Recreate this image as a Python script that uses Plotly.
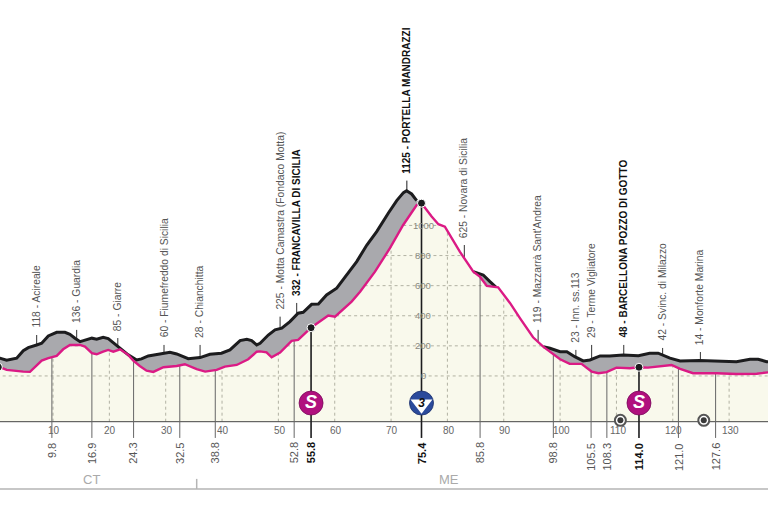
import numpy as np
import plotly.graph_objects as go

# profile: distance (km) and altitude (m)
road_km = [0.0,0.59,1.77,2.95,3.55,4.72,5.61,7.1,7.99,9.16,10.65,12.12,13.0,13.9,14.8,15.4,16.9,17.75,18.9,19.8,21.0,21.9,23.35,24.85,25.7,26.9,28.4,30.75,31.95,34.0,36.1,37.85,39.9,41.4,43.2,44.4,45.25,46.15,46.75,48.2,49.4,50.6,52.05,53.5,54.4,55.9,57.1,58.55,60.35,62.1,63.9,65.7,67.45,69.5,71.0,72.2,72.75,73.65,74.55,75.4,77.2,78.4,79.55,82.2,84.6,85.2,86.35,87.55,88.6,89.0,91.1,92.9,95.2,97.0,98.2,100.0,101.2,102.6,104.1,105.3,107.1,108.8,111.2,113.9,115.9,117.4,119.5,121.3,124.8,131.3,133.7,135.15,136.65,137.2]
road_alt = [118,118,104,111,118,168,188,206,217,266,290,290,277,251,228,235,251,244,257,248,213,184,140,106,113,133,142,157,146,115,122,144,151,173,235,244,235,206,217,272,306,317,361,417,423,476,478,538,583,671,760,870,959,1081,1165,1218,1231,1209,1165,1148,1059,1008,992,826,693,684,671,627,591,589,485,383,257,195,184,161,161,128,100,106,133,133,140,135,151,151,118,100,102,95,111,111,95,95]
tunnel_km = [0.0,0.59,1.77,3.83,4.72,5.91,6.8,7.99,9.16,10.65,11.8,13.0,14.8,15.67,16.9,17.75,18.9,19.8,20.7,21.9,23.35,24.25,25.4,26.6,27.8,29.6,31.95,33.4,35.5,37.0,39.05,40.5,42.6,44.65,46.15,46.75,47.9,48.8,50.3,52.35,53.5,55.9,58.85,60.05,63.0,64.5,67.15,69.8,72.15,74.55,75.4,77.2,78.4,79.55,82.2,84.6,85.8,87.0,89.0,91.1,92.9,95.2,97.0,98.5,100.0,101.7,103.8,105.6,106.8,108.25,110.0,112.4,113.9,115.6,117.7,119.8,121.3,123.6,127.8,131.3,134.9,136.65,137.2]
tunnel_alt = [60,58,40,29,29,27,58,102,118,133,177,206,206,195,151,144,161,173,161,177,140,102,66,35,27,58,66,78,45,29,40,62,73,111,161,163,157,124,155,233,239,324,401,394,494,560,693,849,1003,1136,1148,1059,1008,992,826,693,658,598,589,485,383,257,195,151,111,80,80,29,18,25,55,51,58,55,66,73,47,18,18,13,15,25,25]
road_hidden = [(74.6, 84.5), (88.7, 96.9)]

# named places: km, altitude text, stem top (m)
place_km = [7.1,14.2,21.5,29.7,36.1,50.3,53.25,72.8,83.0,96.1,102.8,105.6,111.3,118.2,124.9]
place_top = [272,306,252,206,206,394,485,1298,870,306,173,206,206,186,159]
place_text = ["118 - Acireale","136 - Guardia","85 - Giarre","60 - Fiumefreddo di Sicilia","28 - Chianchitta",
              "225 - Motta Camastra (Fondaco Motta)","332 - FRANCAVILLA DI SICILIA","1125 - PORTELLA MANDRAZZI",
              "625 - Novara di Sicilia","119 - Mazzarrà Sant'Andrea","23 - Inn. ss.113","29 - Terme Vigliatore",
              "48 - BARCELLONA POZZO DI GOTTO","42 - Svinc. di Milazzo","14 - Monforte Marina"]
place_bold = [False,False,False,False,False,False,True,True,False,False,False,False,True,False,False]

# km marks under the base line
mark_km = [9.8,16.9,24.3,32.5,38.8,52.8,55.8,75.4,85.8,98.8,105.5,108.3,114.0,121.0,127.6]
mark_bold = [False,False,False,False,False,False,True,True,False,False,False,False,True,False,False]

km_ticks = [10,20,30,40,50,60,70,80,90,100,110,120,130]
alt_ticks = [0,200,400,600,800,1000]
sprint_km = [55.8,114.0]
kom_km = [75.4]
dot_km = [0.3,55.8,75.4,114.0]
feed_km = [110.7,125.5]
feed_alt = [-295,-295]
province_text = ["CT","ME"]
province_km = [16.9,80.3]
province_split = [35.5]

BASE = -304
LOW = -412
CREAM = "#F9F9EC"
GREY = "#A9A9AD"
MAGENTA = "#DB1A85"
DARK = "#1C1C1E"
TXT = "#555555"
FONT = "Liberation Sans Narrow, Arial Narrow, sans-serif"

XR = [0.59, 136.9]
YR = [-904, 2498]

fig = go.Figure()

def line(x, y, color, width, dash=None):
    fig.add_trace(go.Scatter(x=x, y=y, mode="lines", hoverinfo="skip", showlegend=False,
                             line=dict(color=color, width=width, dash=dash)))

ends = [tunnel_km[0], tunnel_km[-1]]
fig.add_trace(go.Scatter(x=ends, y=[BASE, BASE], mode="lines", line=dict(width=0), hoverinfo="skip", showlegend=False))
fig.add_trace(go.Scatter(x=tunnel_km, y=tunnel_alt, mode="lines", line=dict(width=0), fill="tonexty",
                         fillcolor=CREAM, hoverinfo="skip", showlegend=False))
fig.add_trace(go.Scatter(x=road_km, y=road_alt, mode="lines", line=dict(width=0), fill="tonexty",
                         fillcolor=GREY, hoverinfo="skip", showlegend=False))

def under_profile(k):
    return float(np.interp(k, tunnel_km, tunnel_alt))

# dotted grid, only inside the cream area
fine = np.arange(0, 137.2, 0.05)
prof = np.interp(fine, tunnel_km, tunnel_alt)
for a in alt_ticks:
    line(fine, np.where(prof > a, a, np.nan), "#A0A090", 0.8, "dot")
for k in km_ticks:
    line([k, k], [BASE, under_profile(k)], "#A0A090", 0.8, "dot")

# base line
line(ends, [BASE, BASE], "#444444", 1)

# km mark lines
for k, b in zip(mark_km, mark_bold):
    line([k, k], [LOW, under_profile(k)], DARK if b else "#666666", 1.6 if b else 1)

# stems
for k, t in zip(place_km, place_top):
    prof_top = float(np.interp(k, road_km, road_alt))
    line([k, k], [prof_top, t], "#333333" if t < 1200 else DARK, 1)

road_visible = np.array(road_alt, dtype=float)
for lo, hi in road_hidden:
    road_visible[(np.array(road_km) > lo) & (np.array(road_km) < hi)] = np.nan
line(road_km, road_visible, DARK, 3)
line(tunnel_km, tunnel_alt, MAGENTA, 2.4)

# dots on the profile
fig.add_trace(go.Scatter(x=dot_km, y=[under_profile(k) for k in dot_km], mode="markers", hoverinfo="skip", showlegend=False,
                         marker=dict(color=DARK, size=8, line=dict(color="white", width=1))))

# province line
line(XR, [-751, -751], "#B5B5B5", 1.5)
line([province_split[0]] * 2, [-751, -684], "#B5B5B5", 1.5)

# icons
ICON = -180
fig.add_trace(go.Scatter(x=sprint_km, y=[ICON] * len(sprint_km), mode="markers+text", text=["<b><i>S</i></b>"] * len(sprint_km),
                         textposition="middle center", textfont=dict(color="white", size=18, family="Liberation Sans"),
                         hoverinfo="skip", showlegend=False,
                         marker=dict(color="#B0107E", size=24, line=dict(color="#7A0A5A", width=0.8))))
fig.add_trace(go.Scatter(x=kom_km, y=[ICON] * len(kom_km), mode="markers", hoverinfo="skip", showlegend=False,
                         marker=dict(color="#2B4A9B", size=24, line=dict(color="#1B2F6B", width=0.8))))
fig.add_trace(go.Scatter(x=kom_km, y=[ICON - 8] * len(kom_km), mode="markers+text", text=["<b><i>3</i></b>"],
                         textposition="middle center", textfont=dict(color="#111111", size=12, family="Liberation Sans"),
                         hoverinfo="skip", showlegend=False,
                         marker=dict(color="white", size=19, symbol="triangle-down")))
fig.add_trace(go.Scatter(x=feed_km, y=feed_alt, mode="markers", hoverinfo="skip", showlegend=False,
                         marker=dict(color="white", size=11, line=dict(color="#555555", width=2))))
fig.add_trace(go.Scatter(x=feed_km, y=feed_alt, mode="markers", hoverinfo="skip", showlegend=False,
                         marker=dict(color="#3A3A3A", size=6, symbol="circle")))

ann = []
for k, t, s, b in zip(place_km, place_top, place_text, place_bold):
    ann.append(dict(x=k, y=t + 34, text=f"<b>{s}</b>" if b else s, textangle=-90, xanchor="center", yanchor="bottom",
                    showarrow=False, font=dict(family=FONT, size=10 if b else 10.3, color="#111111" if b else TXT)))
for k, b in zip(mark_km, mark_bold):
    s = f"{k:.1f}"
    ann.append(dict(x=k, y=LOW - 18, text=f"<b>{s}</b>" if b else s, textangle=-90, xanchor="center", yanchor="top",
                    showarrow=False, font=dict(family=FONT, size=11, color="#111111" if b else TXT)))
for k in km_ticks:
    ann.append(dict(x=k + 0.2, y=-365, text=str(k), xanchor="center", yanchor="middle", showarrow=False,
                    font=dict(family=FONT, size=10, color="#666666")))
for a in alt_ticks:
    ann.append(dict(x=75.7, y=a, text=str(a), xanchor="center", yanchor="middle", showarrow=False,
                    font=dict(family=FONT, size=9.5, color="#8A8A80")))
for k, s in zip(province_km, province_text):
    ann.append(dict(x=k, y=-691, text=s, xanchor="center", yanchor="middle", showarrow=False,
                    font=dict(family=FONT, size=13, color="#AAAAAA")))

fig.update_layout(width=768, height=512, margin=dict(l=0, r=0, t=0, b=0), paper_bgcolor="white", plot_bgcolor="white",
                  showlegend=False, annotations=ann,
                  xaxis=dict(range=XR, visible=False, fixedrange=True),
                  yaxis=dict(range=YR, visible=False, fixedrange=True))
fig.write_html("out.html", config={"displayModeBar": False}, post_script="document.body.style.margin='0';")
